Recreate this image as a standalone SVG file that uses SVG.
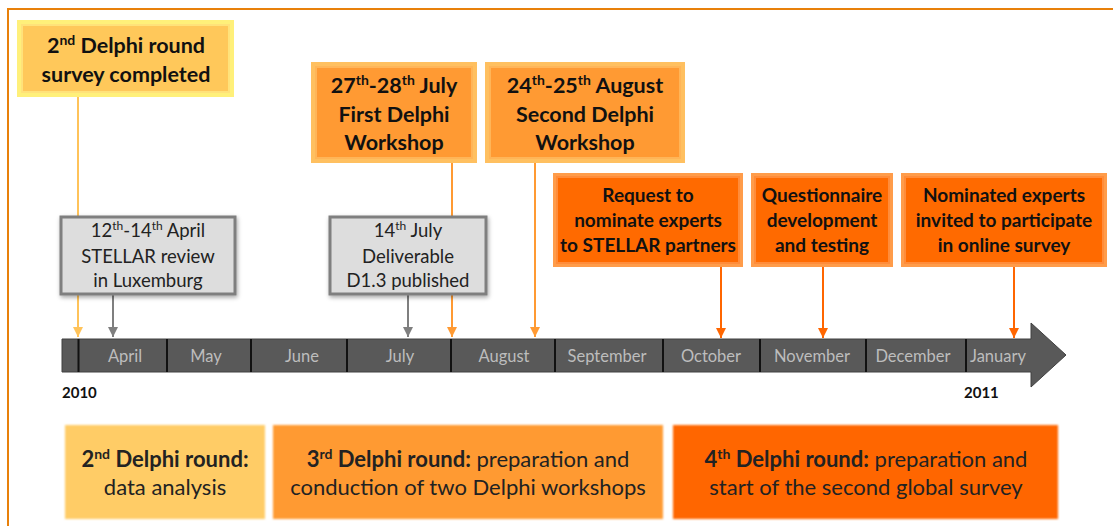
<svg xmlns="http://www.w3.org/2000/svg" width="1114" height="526" viewBox="0 0 1114 526">
<style>
text{font-family:Lato,"Liberation Sans",sans-serif;text-anchor:middle;fill:#111}
.b{font-weight:bold}
.t20{font-size:21.5px}
.t18{font-size:19px}
.gray{font-size:18.5px;fill:#222}
.month{font-size:16.5px;fill:#BDBDBD}
.year{font-size:15px;font-weight:bold;text-anchor:start}
.bot{font-size:22px;fill:#222}
.glowY{fill:#FFF07A}
.glowM{fill:#FFC060}
.glowD{fill:#FF9C4A}
.inY{fill:#FFC85A;stroke:#FFE27A;stroke-width:2}
.inM{fill:#FF9A33;stroke:#FFB558;stroke-width:2}
.inD{fill:#FF6A00;stroke:#FF8C3A;stroke-width:2}
.gbox{fill:#DDDDDD;stroke:#7F7F7F;stroke-width:3}
.div{stroke:#111;stroke-width:2}
</style>
<defs>
<filter id="sh" x="-10%" y="-10%" width="130%" height="130%">
<feDropShadow dx="1" dy="2" stdDeviation="2" flood-color="#000" flood-opacity="0.35"/>
</filter>
<filter id="soft" x="-5%" y="-5%" width="110%" height="110%">
<feGaussianBlur stdDeviation="0.9"/>
</filter>
<marker id="aY" viewBox="0 0 10 10" refX="10" refY="5" markerWidth="10" markerHeight="10" markerUnits="userSpaceOnUse" orient="auto"><path d="M0,0 L10,5 L0,10 Z" fill="#FFC35A"/></marker>
<marker id="aG" viewBox="0 0 10 10" refX="10" refY="5" markerWidth="10" markerHeight="10" markerUnits="userSpaceOnUse" orient="auto"><path d="M0,0 L10,5 L0,10 Z" fill="#7F7F7F"/></marker>
<marker id="aM" viewBox="0 0 10 10" refX="10" refY="5" markerWidth="10" markerHeight="10" markerUnits="userSpaceOnUse" orient="auto"><path d="M0,0 L10,5 L0,10 Z" fill="#FF9A33"/></marker>
<marker id="aD" viewBox="0 0 10 10" refX="10" refY="5" markerWidth="10" markerHeight="10" markerUnits="userSpaceOnUse" orient="auto"><path d="M0,0 L10,5 L0,10 Z" fill="#FF6600"/></marker>
</defs>

<path d="M8,526 V9 H1113" fill="none" stroke="#E8800A" stroke-width="2"/>

<g id="connectors" fill="none" stroke-width="2">
<line x1="78" y1="96" x2="78" y2="337" stroke="#FFC35A" marker-end="url(#aY)"/>
<line x1="452" y1="162" x2="452" y2="337" stroke="#FF9A33" marker-end="url(#aM)"/>
<line x1="535" y1="162" x2="535" y2="337" stroke="#FF9A33" marker-end="url(#aM)"/>
<line x1="113" y1="295" x2="113" y2="337" stroke="#7F7F7F" marker-end="url(#aG)"/>
<line x1="408" y1="295" x2="408" y2="337" stroke="#7F7F7F" marker-end="url(#aG)"/>
<line x1="721" y1="266" x2="721" y2="338" stroke="#FF6600" marker-end="url(#aD)"/>
<line x1="823" y1="266" x2="823" y2="338" stroke="#FF6600" marker-end="url(#aD)"/>
<line x1="1014" y1="266" x2="1014" y2="338" stroke="#FF6600" marker-end="url(#aD)"/>
</g>

<g id="timeline">
<path d="M62,339 H1031 V323 L1066,355 L1031,387 V372 H62 Z" fill="#595959" stroke="#404040" stroke-width="1"/>
<line class="div" x1="78.5" y1="339" x2="78.5" y2="372"/>
<line class="div" x1="167" y1="339" x2="167" y2="372"/>
<line class="div" x1="251" y1="339" x2="251" y2="372"/>
<line class="div" x1="347" y1="339" x2="347" y2="372"/>
<line class="div" x1="451" y1="339" x2="451" y2="372"/>
<line class="div" x1="555" y1="339" x2="555" y2="372"/>
<line class="div" x1="663" y1="339" x2="663" y2="372"/>
<line class="div" x1="760" y1="339" x2="760" y2="372"/>
<line class="div" x1="866" y1="339" x2="866" y2="372"/>
<line class="div" x1="966" y1="339" x2="966" y2="372"/>
<text class="month" x="125" y="362">April</text>
<text class="month" x="206" y="362">May</text>
<text class="month" x="302" y="362">June</text>
<text class="month" x="400" y="362">July</text>
<text class="month" x="504" y="362">August</text>
<text class="month" x="607" y="362">September</text>
<text class="month" x="711" y="362">October</text>
<text class="month" x="812" y="362">November</text>
<text class="month" x="913" y="362">December</text>
<text class="month" x="998" y="362">January</text>
<text class="year" x="62" y="398">2010</text>
<text class="year" x="964" y="398">2011</text>
</g>

<g id="survey-completed">
<rect class="glowY" x="17" y="20" width="217" height="77"/>
<rect class="inY" x="22" y="25" width="207" height="67"/>
<text class="b t20" x="126" y="53">2<tspan font-size="14" dy="-8">nd</tspan><tspan dy="8"> Delphi round</tspan></text>
<text class="b t20" x="126" y="82">survey completed</text>
</g>

<g id="first-workshop">
<rect class="glowM" x="311" y="62" width="166" height="101"/>
<rect class="inM" x="316" y="67" width="156" height="91"/>
<text class="b t20" x="394" y="93">27<tspan font-size="14" dy="-8">th</tspan><tspan dy="8">-28</tspan><tspan font-size="14" dy="-8">th</tspan><tspan dy="8"> July</tspan></text>
<text class="b t20" x="394" y="122">First Delphi</text>
<text class="b t20" x="394" y="150">Workshop</text>
</g>

<g id="second-workshop">
<rect class="glowM" x="485" y="62" width="200" height="101"/>
<rect class="inM" x="490" y="67" width="190" height="91"/>
<text class="b t20" x="585" y="93">24<tspan font-size="14" dy="-8">th</tspan><tspan dy="8">-25</tspan><tspan font-size="14" dy="-8">th</tspan><tspan dy="8"> August</tspan></text>
<text class="b t20" x="585" y="122">Second Delphi</text>
<text class="b t20" x="585" y="150">Workshop</text>
</g>

<g id="stellar-review">
<rect class="gbox" x="61" y="217" width="174" height="77" filter="url(#sh)"/>
<text class="gray" x="148" y="237">12<tspan font-size="12" dy="-7">th</tspan><tspan dy="7">-14</tspan><tspan font-size="12" dy="-7">th</tspan><tspan dy="7"> April</tspan></text>
<text class="gray" x="148" y="263">STELLAR review</text>
<text class="gray" x="148" y="287">in Luxemburg</text>
</g>

<g id="deliverable">
<rect class="gbox" x="330" y="217" width="156" height="77" filter="url(#sh)"/>
<text class="gray" x="408" y="237">14<tspan font-size="12" dy="-7">th</tspan><tspan dy="7"> July</tspan></text>
<text class="gray" x="408" y="263">Deliverable</text>
<text class="gray" x="408" y="287">D1.3 published</text>
</g>

<g id="request">
<rect class="glowD" x="553" y="173" width="190" height="94"/>
<rect class="inD" x="557" y="177" width="182" height="86"/>
<text class="b t18" x="648" y="202">Request to</text>
<text class="b t18" x="648" y="227">nominate experts</text>
<text class="b t18" x="648" y="252">to STELLAR partners</text>
</g>

<g id="questionnaire">
<rect class="glowD" x="751" y="173" width="142" height="94"/>
<rect class="inD" x="755" y="177" width="134" height="86"/>
<text class="b t18" x="822" y="202">Questionnaire</text>
<text class="b t18" x="822" y="227">development</text>
<text class="b t18" x="822" y="252">and testing</text>
</g>

<g id="nominated">
<rect class="glowD" x="901" y="173" width="206" height="94"/>
<rect class="inD" x="905" y="177" width="198" height="86"/>
<text class="b t18" x="1004" y="202">Nominated experts</text>
<text class="b t18" x="1004" y="227">invited to participate</text>
<text class="b t18" x="1004" y="252">in online survey</text>
</g>

<g id="round2">
<rect x="65" y="425" width="200" height="94" fill="#FFCC66" filter="url(#soft)"/>
<text class="bot" x="165" y="467"><tspan font-weight="bold">2<tspan font-size="14" dy="-8">nd</tspan><tspan dy="8"> Delphi round:</tspan></tspan></text>
<text class="bot" x="165" y="495">data analysis</text>
</g>

<g id="round3">
<rect x="273" y="425" width="390" height="94" fill="#FF9A33" filter="url(#soft)"/>
<text class="bot" x="468" y="467"><tspan font-weight="bold">3<tspan font-size="14" dy="-8">rd</tspan><tspan dy="8"> Delphi round:</tspan></tspan> preparation and</text>
<text class="bot" x="468" y="495">conduction of two Delphi workshops</text>
</g>

<g id="round4">
<rect x="673" y="425" width="385" height="94" fill="#FF6600" filter="url(#soft)"/>
<text class="bot" x="866" y="467"><tspan font-weight="bold">4<tspan font-size="14" dy="-8">th</tspan><tspan dy="8"> Delphi round:</tspan></tspan> preparation and</text>
<text class="bot" x="866" y="495">start of the second global survey</text>
</g>
</svg>
